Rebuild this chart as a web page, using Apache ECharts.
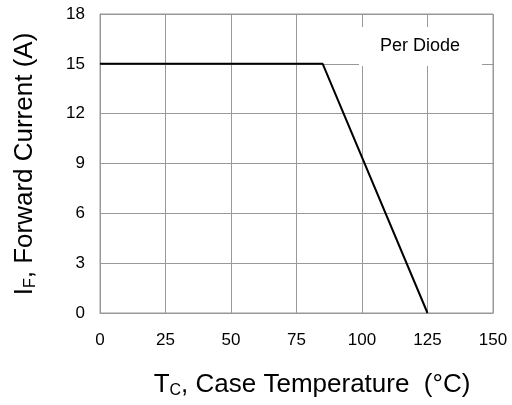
<!DOCTYPE html>
<html><head><meta charset="utf-8">
<script src="https://cdn.jsdelivr.net/npm/echarts@6/dist/echarts.min.js"></script>
<style>html,body{margin:0;padding:0;background:#fff}#c{width:512px;height:405px}</style>
</head><body><div id="c"></div>
<script>
var temperature = [0, 85, 125];
var forwardCurrent = [15, 15, 0];
var xTicks = [0, 25, 50, 75, 100, 125, 150];
var yTicks = [0, 3, 6, 9, 12, 15, 18];

var chart = echarts.init(document.getElementById('c'), null, {renderer: 'canvas'});
var font = 'Liberation Sans, Arial, sans-serif';
chart.setOption({
  animation: false,
  backgroundColor: '#fff',
  grid: {left: 100, right: 19, top: 14, bottom: 92, show: true, borderColor: '#999', borderWidth: 1},
  xAxis: {
    type: 'value', min: xTicks[0], max: xTicks[xTicks.length - 1], interval: 25,
    axisLine: {show: true, lineStyle: {color: '#999'}},
    axisTick: {show: false},
    splitLine: {show: true, lineStyle: {color: '#999', width: 1}},
    axisLabel: {color: '#000', fontSize: 17, fontFamily: font, margin: 19}
  },
  yAxis: {
    type: 'value', min: yTicks[0], max: yTicks[yTicks.length - 1], interval: 3,
    axisLine: {show: true, lineStyle: {color: '#999'}},
    axisTick: {show: false},
    splitLine: {show: true, lineStyle: {color: '#999', width: 1}},
    axisLabel: {color: '#000', fontSize: 17, fontFamily: font, margin: 15}
  },
  series: [{
    type: 'line',
    data: temperature.map(function (t, i) { return [t, forwardCurrent[i]]; }),
    symbol: 'none',
    lineStyle: {color: '#000', width: 2},
    z: 5
  }],
  graphic: [
    {type: 'rect', z: 100, shape: {x: 359, y: 27, width: 123, height: 39}, style: {fill: '#fff'}},
    {type: 'text', z: 101, x: 420, y: 46, style: {text: 'Per Diode', fill: '#000', font: '18px ' + font, textAlign: 'center', textVerticalAlign: 'middle'}},
    {type: 'text', z: 101, x: 312, y: 385, style: {
      text: '{m|T}{s|C}{m|, Case Temperature  (°C)}', textAlign: 'center', textVerticalAlign: 'middle',
      rich: {m: {fontSize: 26, fontFamily: font, color: '#000'}, s: {fontSize: 16, fontFamily: font, color: '#000', padding: [12, 0, 0, 0]}}
    }},
    {type: 'text', z: 101, x: 25, y: 164, rotation: Math.PI / 2, style: {
      text: '{m|I}{s|F}{m|, Forward Current (A)}', textAlign: 'center', textVerticalAlign: 'middle',
      rich: {m: {fontSize: 26, fontFamily: font, color: '#000'}, s: {fontSize: 16, fontFamily: font, color: '#000', padding: [12, 0, 0, 0]}}
    }}
  ]
});
</script></body></html>
